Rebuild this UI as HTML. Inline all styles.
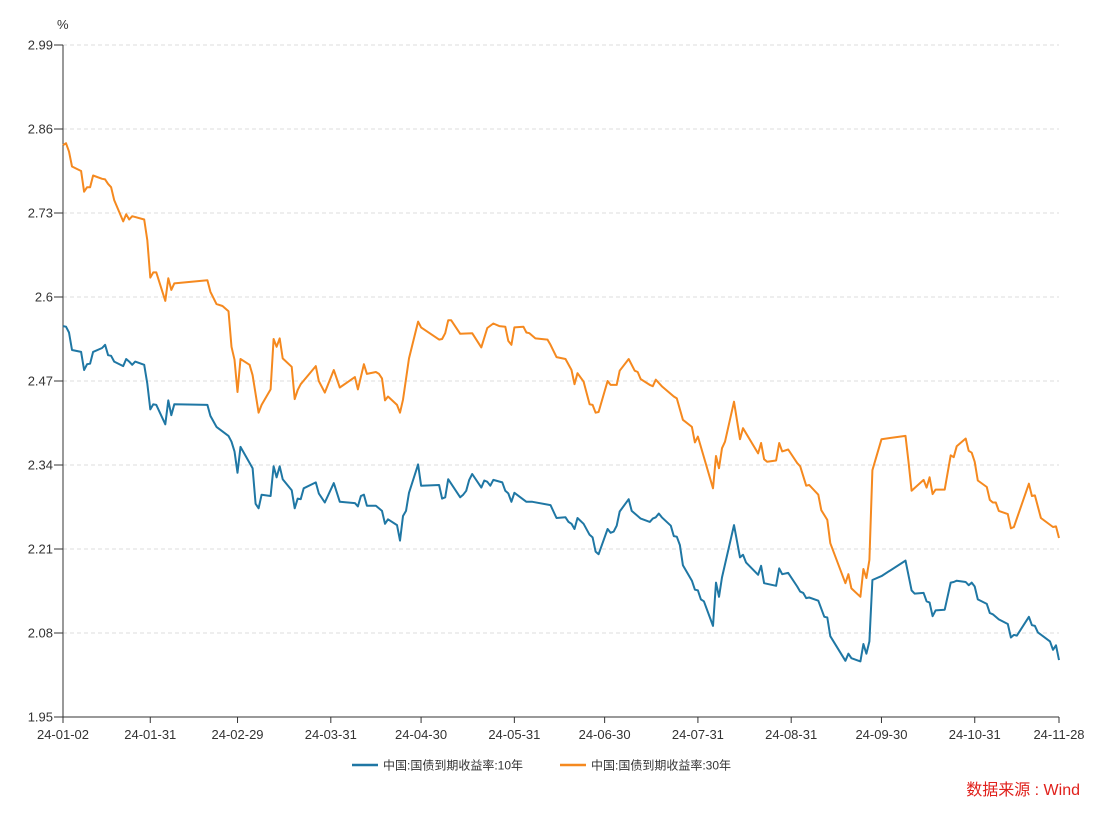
<!DOCTYPE html>
<html><head><meta charset="utf-8">
<style>
html,body{margin:0;padding:0;background:#fff;}
body{width:1110px;height:813px;overflow:hidden;font-family:"Liberation Sans","Noto Sans CJK SC",sans-serif;}
svg text{font-family:"Liberation Sans","Noto Sans CJK SC",sans-serif;}
</style></head>
<body>
<svg id="chart" width="1110" height="813" xmlns="http://www.w3.org/2000/svg">
  <g id="grid"></g>
  <g id="yaxis"></g>
  <g id="xaxis"></g>
  <g id="series"></g>
  <text x="57" y="29" font-size="13" fill="#333">%</text>
  <g>
    <g>
      <line x1="352" y1="765" x2="378" y2="765" stroke="#1f77a4" stroke-width="2.5"/>
      <text x="383" y="769.5" font-size="12" fill="#333">中国:国债到期收益率:10年</text>
    </g>
    <g>
      <line x1="560" y1="765" x2="586" y2="765" stroke="#f5891f" stroke-width="2.5"/>
      <text x="591" y="769.5" font-size="12" fill="#333">中国:国债到期收益率:30年</text>
    </g>
  </g>
  <text x="1080" y="795" font-size="16" fill="#e0201b" text-anchor="end">数据来源 : Wind</text>
</svg>
<script>
// day offsets from 2024-01-02
const yTicks = [1.95, 2.08, 2.21, 2.34, 2.47, 2.6, 2.73, 2.86, 2.99];
const yTickLabels = ["1.95", "2.08", "2.21", "2.34", "2.47", "2.6", "2.73", "2.86", "2.99"];
const xTickDays = [0, 29, 58, 89, 119, 150, 180, 211, 242, 272, 303, 331];
const xTickLabels = ["24-01-02","24-01-31","24-02-29","24-03-31","24-04-30","24-05-31","24-06-30","24-07-31","24-08-31","24-09-30","24-10-31","24-11-28"];

const days10 = [0,1,2,3,6,7,8,9,10,13,14,15,16,17,20,21,22,23,24,27,28,29,30,31,34,35,36,37,48,49,51,55,56,57,58,59,63,64,65,66,69,70,71,72,73,76,77,78,79,80,84,85,87,90,92,97,98,99,100,101,104,106,107,108,111,112,113,114,115,118,119,125,126,127,128,132,133,134,135,136,139,140,141,142,143,146,147,148,149,150,154,156,162,164,167,168,169,170,171,173,175,176,177,178,181,182,183,184,185,188,189,192,195,196,197,198,199,202,203,204,205,206,209,210,211,212,213,216,217,218,219,223,225,226,227,231,232,233,237,238,239,241,244,245,246,247,248,251,253,254,255,260,261,262,265,266,267,268,269,272,280,282,283,286,287,288,289,290,293,295,296,297,300,301,302,303,304,307,308,309,311,314,315,316,317,321,322,323,324,328,329,330,331];
const yield10 = [2.555,2.554,2.545,2.518,2.515,2.487,2.496,2.497,2.515,2.521,2.526,2.510,2.509,2.500,2.493,2.504,2.500,2.495,2.500,2.495,2.466,2.426,2.434,2.433,2.403,2.440,2.417,2.434,2.433,2.416,2.399,2.385,2.376,2.361,2.328,2.368,2.335,2.280,2.273,2.294,2.292,2.338,2.321,2.338,2.318,2.301,2.273,2.288,2.287,2.304,2.313,2.296,2.282,2.312,2.283,2.281,2.276,2.292,2.294,2.277,2.277,2.269,2.249,2.256,2.247,2.223,2.261,2.269,2.297,2.341,2.308,2.309,2.288,2.290,2.318,2.290,2.294,2.300,2.317,2.326,2.305,2.316,2.314,2.308,2.317,2.313,2.300,2.296,2.283,2.297,2.283,2.283,2.278,2.258,2.259,2.252,2.249,2.241,2.258,2.249,2.232,2.228,2.206,2.202,2.241,2.235,2.237,2.246,2.268,2.287,2.269,2.257,2.252,2.257,2.259,2.265,2.259,2.246,2.230,2.229,2.216,2.185,2.161,2.147,2.146,2.132,2.129,2.091,2.158,2.136,2.166,2.247,2.197,2.201,2.189,2.170,2.184,2.157,2.153,2.180,2.171,2.173,2.152,2.144,2.142,2.134,2.135,2.130,2.105,2.104,2.075,2.037,2.048,2.041,2.036,2.063,2.048,2.067,2.162,2.168,2.192,2.146,2.141,2.142,2.129,2.127,2.106,2.115,2.116,2.158,2.159,2.161,2.159,2.154,2.158,2.152,2.132,2.125,2.111,2.109,2.101,2.094,2.073,2.077,2.076,2.105,2.092,2.091,2.081,2.067,2.054,2.061,2.038];

const days30 = [0,1,2,3,6,7,8,9,10,13,14,15,16,17,20,21,22,23,27,28,29,30,31,34,35,36,37,48,49,51,53,55,56,57,58,59,62,63,65,66,69,70,71,72,73,76,77,78,79,84,85,87,90,92,97,98,100,101,104,105,106,107,108,111,112,113,115,118,119,125,126,127,128,129,132,136,139,141,143,145,147,148,149,150,153,154,155,157,161,162,164,167,169,170,171,173,175,176,177,178,181,182,184,185,188,190,191,192,195,196,197,199,203,204,206,209,210,211,216,217,218,219,220,223,225,226,231,232,233,234,237,238,239,241,244,245,247,248,251,252,254,255,260,261,262,265,266,267,268,269,272,280,281,282,286,287,288,289,290,293,295,296,297,300,301,302,303,304,307,308,309,310,311,314,315,316,321,322,323,325,329,330,331];
const yield30 = [2.835,2.838,2.825,2.802,2.795,2.763,2.770,2.770,2.788,2.783,2.782,2.775,2.770,2.750,2.717,2.728,2.720,2.725,2.720,2.688,2.630,2.638,2.638,2.594,2.629,2.611,2.621,2.626,2.608,2.589,2.586,2.578,2.523,2.503,2.453,2.504,2.495,2.479,2.421,2.433,2.457,2.535,2.523,2.536,2.505,2.492,2.442,2.456,2.465,2.493,2.470,2.452,2.487,2.460,2.476,2.457,2.496,2.481,2.484,2.481,2.474,2.440,2.446,2.433,2.421,2.441,2.505,2.562,2.553,2.534,2.535,2.544,2.564,2.564,2.543,2.544,2.522,2.552,2.559,2.555,2.554,2.532,2.526,2.553,2.554,2.545,2.544,2.536,2.534,2.526,2.507,2.504,2.487,2.465,2.482,2.469,2.434,2.433,2.421,2.422,2.470,2.464,2.464,2.486,2.504,2.486,2.484,2.473,2.464,2.462,2.472,2.462,2.446,2.443,2.410,2.399,2.375,2.384,2.304,2.354,2.335,2.366,2.376,2.438,2.380,2.397,2.358,2.374,2.349,2.345,2.347,2.374,2.361,2.364,2.343,2.338,2.308,2.309,2.294,2.270,2.255,2.219,2.157,2.171,2.149,2.136,2.179,2.165,2.193,2.332,2.380,2.385,2.345,2.300,2.317,2.305,2.321,2.295,2.302,2.302,2.355,2.352,2.369,2.381,2.362,2.359,2.345,2.316,2.306,2.286,2.282,2.282,2.269,2.264,2.242,2.244,2.311,2.292,2.293,2.258,2.244,2.245,2.227];

const NS = "http://www.w3.org/2000/svg";
const X0 = 63, X1 = 1059, Y0 = 717, Y1 = 45;
const DMAX = 331, VMIN = 1.95, VMAX = 2.99;
function xScale(d){ return X0 + (d / DMAX) * (X1 - X0); }
function yScale(v){ return Y0 - (v - VMIN) / (VMAX - VMIN) * (Y0 - Y1); }
function mk(tag, attrs, parent){
  const e = document.createElementNS(NS, tag);
  for (const k in attrs) e.setAttribute(k, attrs[k]);
  parent.appendChild(e);
  return e;
}
const grid = document.getElementById('grid');
const yaxis = document.getElementById('yaxis');
const xaxis = document.getElementById('xaxis');
const series = document.getElementById('series');

yTicks.forEach((v, i) => {
  const y = yScale(v);
  if (i > 0) {
    const g = mk('line', {x1: X0, x2: X1, y1: y, y2: y, stroke: '#dedede', 'stroke-dasharray': '4,3', 'stroke-width': 1}, grid);
    
    
  }
  const t = mk('text', {x: 53, y: y + 4.5, 'font-size': 13, fill: '#333', 'text-anchor': 'end'}, yaxis);
  t.textContent = yTickLabels[i];
  
  
  const tk = mk('line', {x1: 54, x2: X0, y1: y, y2: y, stroke: '#333', 'stroke-width': 1}, yaxis);
  
  
});
const yl = mk('line', {x1: X0, x2: X0, y1: Y1, y2: Y0, stroke: '#333', 'stroke-width': 1}, yaxis);


const xl = mk('line', {x1: X0, x2: X1, y1: Y0, y2: Y0, stroke: '#333', 'stroke-width': 1}, xaxis);


xTickDays.forEach((d, i) => {
  const x = xScale(d);
  const tk = mk('line', {x1: x, x2: x, y1: Y0, y2: Y0 + 6, stroke: '#333', 'stroke-width': 1}, xaxis);
  
  
  const t = mk('text', {x: x, y: Y0 + 22, 'font-size': 13, fill: '#333', 'text-anchor': 'middle'}, xaxis);
  t.textContent = xTickLabels[i];
  
  
});
function drawLine(days, vals, color, name){
  const pts = days.map((d, i) => xScale(d).toFixed(1) + ',' + yScale(vals[i]).toFixed(1)).join(' ');
  const p = mk('polyline', {points: pts, fill: 'none', stroke: color, 'stroke-width': 2, 'stroke-linejoin': 'round'}, series);
  
  
}
drawLine(days10, yield10, '#1f77a4', 'line-10y-yield');
drawLine(days30, yield30, '#f5891f', 'line-30y-yield');
</script>
</body></html>
